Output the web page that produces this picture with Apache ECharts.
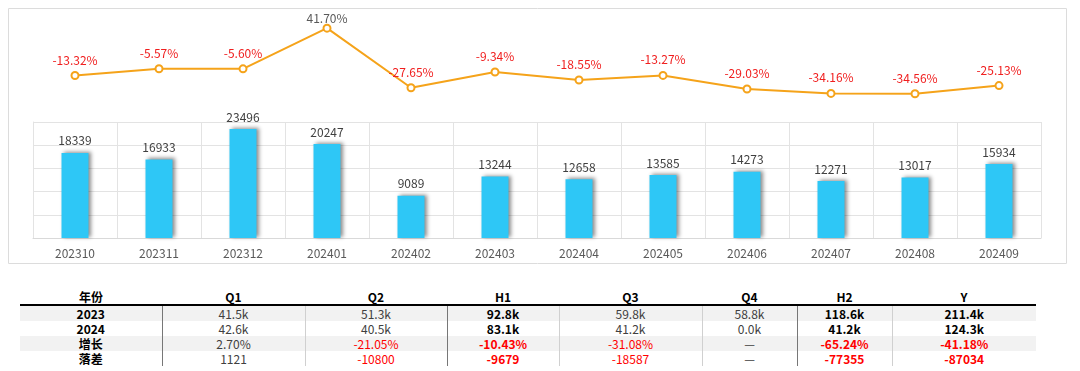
<!DOCTYPE html>
<html>
<head>
<meta charset="utf-8">
<script src="https://cdn.jsdelivr.net/npm/echarts@6/dist/echarts.min.js"></script>
<style>
  body { margin: 0; background: #fff; width: 1080px; height: 371px; overflow: hidden; position: relative; }
  #chart { position: absolute; left: 0; top: 0; width: 1080px; height: 266px; }
  #tbl { position: absolute; left: 20px; top: 289px; width: 1016px; border-collapse: collapse; table-layout: fixed;
         font-family: "Noto Sans CJK SC", sans-serif; font-size: 12px; color: #404040; }
  #tbl td, #tbl th { height: 15px; line-height: 15px; padding: 0; text-align: center; white-space: nowrap; }
  #tbl th { font-weight: bold; color: #000; border-bottom: 2px solid #000; }
  #tbl tr.gray td { background: #f2f2f2; }
  #tbl td.sep { border-left: 1px solid #d0d0d0; }
  #tbl td.sepd { border-left: 1px solid #777; }
  #tbl td.b { font-weight: bold; color: #000; }
  #tbl td.neg { color: #ff0000; }
</style>
</head>
<body>
<div id="chart"></div>
<table id="tbl"></table>
<script>
// 月份
var months = ['202310','202311','202312','202401','202402','202403','202404','202405','202406','202407','202408','202409'];
// 销量
var sales = [18339,16933,23496,20247,9089,13244,12658,13585,14273,12271,13017,15934];
// 同比增长(%)
var growth = [-13.32,-5.57,-5.60,41.70,-27.65,-9.34,-18.55,-13.27,-29.03,-34.16,-34.56,-25.13];

// 表格
var tableCols = ['Q1','Q2','H1','Q3','Q4','H2','Y'];
var colWidths = [142,143,142,112,143,95,95,144];
var rowNames = ['2023','2024','增长','落差'];
var row2023 = ['41.5k','51.3k','92.8k','59.8k','58.8k','118.6k','211.4k'];
var row2024 = ['42.6k','40.5k','83.1k','41.2k','0.0k','41.2k','124.3k'];
var rowGrowth = ['2.70%','-21.05%','-10.43%','-31.08%','—','-65.24%','-41.18%'];
var rowDiff = ['1121','-10800','-9679','-18587','—','-77355','-87034'];
var boldCols = ['H1','H2','Y'];
var darkSepBefore = ['Q1','H1','H2'];

var font = '"Noto Sans CJK SC", sans-serif';

var myChart = echarts.init(document.getElementById('chart'));
var option = {
    animation: false,
    textStyle: { fontFamily: font },
    graphic: [{
        type: 'rect',
        shape: { x: 8.5, y: 8.5, width: 1058, height: 255 },
        style: { fill: 'none', stroke: '#dcdcdc', lineWidth: 1 },
        silent: true
    }],
    grid: [
        { left: 33, right: 39, top: 21, height: 86 },  //折线
        { left: 33, right: 39, top: 122, bottom: 28 }  //柱子
    ],
    xAxis: [
        { type: 'category', gridIndex: 0, data: months, show: false },
        {
            type: 'category', gridIndex: 1, data: months,
            axisLine: { lineStyle: { color: '#d9d9d9' } },
            axisTick: { show: false },
            axisLabel: { color: '#595959', fontSize: 12, margin: 9, fontFamily: font },
            splitLine: { show: true, lineStyle: { color: '#e3e3e3' } }
        }
    ],
    yAxis: [
        { type: 'value', gridIndex: 0, min: -50, max: 50, show: false },
        {
            type: 'value', gridIndex: 1, min: 0, max: 25000, interval: 5000,
            axisLine: { show: true, lineStyle: { color: '#e3e3e3' } },
            axisTick: { show: false },
            axisLabel: { show: false },
            splitLine: { lineStyle: { color: '#e3e3e3' } }
        }
    ],
    series: [
        {
            type: 'line',
            xAxisIndex: 0, yAxisIndex: 0,
            symbol: 'emptyCircle',
            symbolSize: 7,
            lineStyle: { color: '#F5A31A', width: 2 },
            itemStyle: { color: '#F5A31A', borderWidth: 2 },
            label: {
                show: true, position: 'top', distance: 5, fontSize: 12, fontFamily: font,
                formatter: function (p) { return p.value.toFixed(2) + '%'; },
                color: '#595959'
            }
        },
        {
            type: 'bar',
            xAxisIndex: 1, yAxisIndex: 1,
            data: sales,
            barWidth: 27,
            itemStyle: {
                color: '#2EC7F6',
                shadowColor: 'rgba(0,0,0,0.45)',
                shadowBlur: 4,
                shadowOffsetX: 2,
                shadowOffsetY: -1
            },
            label: { show: true, position: 'top', distance: 6, color: '#404040', fontSize: 12, fontFamily: font }
        }
    ]
};
// 负值标签红色，靠近顶部的标签贴近点(不超出外框)
option.series[0].data = growth.map(function (v) {
    return { value: v, label: { color: v < 0 ? '#F01E1E' : '#595959', distance: v > 35 ? -1 : 5 } };
});
myChart.setOption(option);

// 生成表格
var tbl = document.getElementById('tbl');
var html = '<colgroup>';
for (var i = 0; i < colWidths.length; i++) html += '<col style="width:' + colWidths[i] + 'px">';
html += '</colgroup><tr><th>年份</th>';
for (var i = 0; i < tableCols.length; i++) html += '<th>' + tableCols[i] + '</th>';
html += '</tr>';
var rows = [row2023, row2024, rowGrowth, rowDiff];
for (var r = 0; r < rows.length; r++) {
    html += '<tr' + (r % 2 === 0 ? ' class="gray"' : '') + '><td style="font-weight:bold;color:#000">' + rowNames[r] + '</td>';
    for (var c = 0; c < tableCols.length; c++) {
        var v = rows[r][c];
        var cls = [darkSepBefore.indexOf(tableCols[c]) >= 0 ? 'sepd' : 'sep'];
        if (boldCols.indexOf(tableCols[c]) >= 0) cls.push('b');
        if (v.charAt(0) === '-') cls.push('neg');
        html += '<td class="' + cls.join(' ') + '">' + v + '</td>';
    }
    html += '</tr>';
}
tbl.innerHTML = html;
</script>
</body>
</html>
